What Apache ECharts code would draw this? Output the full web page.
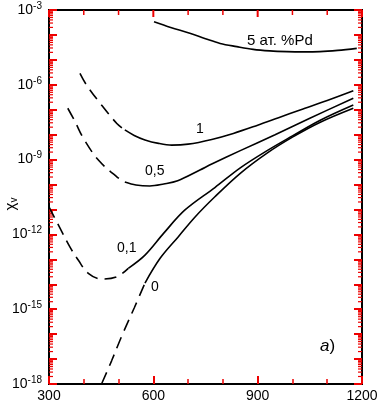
<!DOCTYPE html>
<html>
<head>
<meta charset="utf-8">
<script src="https://cdn.jsdelivr.net/npm/echarts@6/dist/echarts.min.js"></script>
<style>
  html, body { margin: 0; padding: 0; background: #fff; }
  #chart { width: 381px; height: 408px; }
</style>
</head>
<body>
<div id="chart"></div>
<script>
// temperature (K) and log10 of chi_v
const t5 = [602, 650, 705, 750, 792, 840, 887, 935, 984, 1030, 1079, 1130, 1185]
const chi5 = [-3.47, -3.70, -3.93, -4.15, -4.34, -4.47, -4.58, -4.64, -4.67, -4.68, -4.67, -4.62, -4.54]

const t1Dash = [389, 408, 447, 495, 518]
const chi1Dash = [-5.54, -6.01, -6.74, -7.55, -7.81]
const t1 = [518, 545, 576, 615, 653, 700, 768, 830, 900, 960, 1022, 1100, 1175]
const chi1 = [-7.81, -8.03, -8.21, -8.35, -8.42, -8.38, -8.19, -7.95, -7.62, -7.32, -7.01, -6.63, -6.24]

const t05Dash = [354, 375, 399, 442, 495, 518]
const chi05Dash = [-6.94, -7.48, -8.15, -9.02, -9.69, -9.90]
const t05 = [518, 550, 590, 630, 670, 734, 768, 850, 950, 1050, 1175]
const chi05 = [-9.90, -10.02, -10.06, -9.98, -9.85, -9.42, -9.18, -8.64, -8.00, -7.34, -6.54]

const t01Dash = [300, 332, 360, 384, 413, 451, 495, 528]
const chi01Dash = [-10.9, -11.76, -12.5, -13.03, -13.56, -13.79, -13.70, -13.36]
const t01 = [528, 576, 630, 691, 777, 850, 926, 1000, 1080, 1175]
const chi01 = [-13.36, -12.83, -11.95, -11.02, -10.12, -9.33, -8.65, -8.05, -7.42, -6.81]

const t0Dash = [452, 480, 510, 545, 576]
const chi0Dash = [-17.97, -17.07, -16.05, -14.95, -13.95]
const t0 = [576, 620, 672, 720, 777, 850, 926, 1000, 1080, 1175]
const chi0 = [-13.95, -12.95, -12.09, -11.30, -10.49, -9.55, -8.75, -8.10, -7.50, -6.94]

const xTickLabels = [300, 600, 900, 1200]
const xTicks = [300, 400, 500, 600, 700, 800, 900, 1000, 1100, 1200]
const decades = [-18, -17, -16, -15, -14, -13, -12, -11, -10, -9, -8, -7, -6, -5, -4]
const minorSteps = [2, 3, 4, 5, 6, 7, 8, 9]

const font = 'Liberation Sans, Arial, sans-serif'
const tickColor = '#e00'

function pairs(xs, ys) {
  return xs.map((x, i) => [x, ys[i]])
}

function curve(xs, ys, dashed) {
  return {
    type: 'line',
    data: pairs(xs, ys),
    smooth: 0.35,
    symbol: 'none',
    lineStyle: { color: '#000', width: 1.6, type: dashed ? [12, 7] : 'solid' }
  }
}

// log minor ticks (2..9 within each decade), left and right
const minorTicks = []
decades.forEach(d => {
  minorSteps.forEach(k => minorTicks.push([300, d + Math.log10(k)]))
})
// ticks along the top edge
const topTicks = xTicks.map(t => [t, -3])

const chart = echarts.init(document.getElementById('chart'), null, { renderer: 'canvas' })

const line2 = { show: true, lineStyle: { color: '#000', width: 2 } }
const baseX = { type: 'value', min: 300, max: 1200, splitLine: { show: false } }
const baseY = { type: 'value', min: -18, max: -3, interval: 1, splitLine: { show: false } }

let option = {
  animation: false,
  backgroundColor: '#fff',
  grid: { left: 49, right: 19, top: 10, bottom: 24, containLabel: false, outerBoundsMode: 'none', show: true,
    borderColor: '#000', borderWidth: 2, backgroundColor: 'transparent' },
  xAxis: [
    Object.assign({}, baseX, {
      position: 'bottom', interval: 300,
      axisLine: line2,
      axisTick: { show: true, inside: true, length: 8, lineStyle: { color: tickColor, width: 2 } },
      axisLabel: {
        color: '#000', fontFamily: font, fontSize: 14, margin: 5,
        formatter: v => xTickLabels.indexOf(v) >= 0 ? String(v) : ''
      }
    }),
    Object.assign({}, baseX, {
      position: 'bottom', interval: 100,
      axisLine: { show: false },
      axisTick: { show: true, inside: true, length: 5, lineStyle: { color: tickColor, width: 1.5 } },
      axisLabel: { show: false }
    })
  ],
  yAxis: [
    Object.assign({}, baseY, {
      position: 'left',
      axisLine: line2,
      axisTick: { show: true, inside: true, length: 8, lineStyle: { color: tickColor, width: 2 } },
      axisLabel: {
        margin: 7,
        formatter: v => (v % 3 === 0) ? '{b|10}{s|' + v + '}' : '',
        rich: {
          b: { fontFamily: font, fontSize: 14, color: '#000' },
          s: { fontFamily: font, fontSize: 10, color: '#000', padding: [0, 0, 8, 0] }
        }
      }
    }),
    Object.assign({}, baseY, {
      position: 'right',
      axisLine: line2,
      axisTick: { show: true, inside: true, length: 8, lineStyle: { color: tickColor, width: 2 } },
      axisLabel: { show: false }
    })
  ],
  series: [
    curve(t5, chi5, false),
    curve(t1Dash, chi1Dash, true),
    curve(t1, chi1, false),
    curve(t05Dash, chi05Dash, true),
    curve(t05, chi05, false),
    curve(t01Dash, chi01Dash, true),
    curve(t01, chi01, false),
    curve(t0Dash, chi0Dash, true),
    curve(t0, chi0, false),
    {
      type: 'custom',
      data: minorTicks,
      renderItem: function(params, api) {
        const p = api.coord([api.value(0), api.value(1)])
        const cs = params.coordSys
        return {
          type: 'group',
          children: [
            { type: 'line', shape: { x1: cs.x, y1: p[1], x2: cs.x + 4, y2: p[1] },
              style: { stroke: tickColor, lineWidth: 1.2 } },
            { type: 'line', shape: { x1: cs.x + cs.width - 4, y1: p[1], x2: cs.x + cs.width, y2: p[1] },
              style: { stroke: tickColor, lineWidth: 1.2 } }
          ]
        }
      }
    },
    {
      type: 'custom',
      data: topTicks,
      renderItem: function(params, api) {
        const t = api.value(0)
        const p = api.coord([t, api.value(1)])
        const major = xTickLabels.indexOf(t) >= 0
        return {
          type: 'line',
          shape: { x1: p[0], y1: p[1], x2: p[0], y2: p[1] + (major ? 7 : 5) },
          style: { stroke: tickColor, lineWidth: major ? 2 : 1.5 }
        }
      }
    }
  ],
  graphic: [
    { type: 'text', x: 11, y: 204, rotation: Math.PI / 2, style: {
        text: '{c|χ}{v|v}', align: 'center', verticalAlign: 'middle',
        rich: {
          c: { font: '15px ' + font, fill: '#000' },
          v: { font: '10px ' + font, fill: '#000', padding: [6, 0, 0, 0] }
        }
      } },
    { type: 'text', left: 247, top: 33, style: { text: '5 ат. %Pd', font: '15px ' + font, fill: '#000' } },
    { type: 'text', left: 196, top: 122, style: { text: '1', font: '14px ' + font, fill: '#000' } },
    { type: 'text', left: 145, top: 164, style: { text: '0,5', font: '14px ' + font, fill: '#000' } },
    { type: 'text', left: 117, top: 241, style: { text: '0,1', font: '14px ' + font, fill: '#000' } },
    { type: 'text', left: 151, top: 280, style: { text: '0', font: '14px ' + font, fill: '#000' } },
    { type: 'text', left: 320, top: 338, style: {
        text: '{i|a}{n|)}',
        rich: {
          i: { font: 'italic 17px ' + font, fill: '#000' },
          n: { font: '17px ' + font, fill: '#000' }
        }
      } }
  ]
}

chart.setOption(option)
</script>
</body>
</html>
